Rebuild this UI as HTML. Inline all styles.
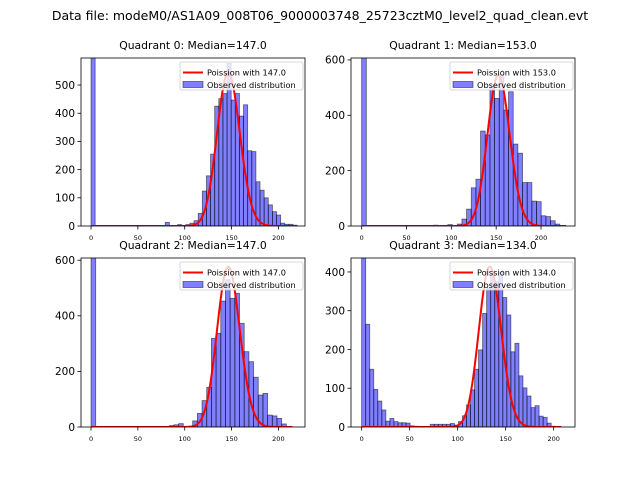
<!DOCTYPE html>
<html><head><meta charset="utf-8"><style>
body{margin:0;background:#fff;}
svg{display:block;font-family:"DejaVu Sans","Liberation Sans",sans-serif;}
</style></head><body>
<svg id="fig" width="640" height="480" viewBox="0 0 640 480">
<rect width="640" height="480" fill="#fff"/>
<text x="320" y="20" font-size="12.5" text-anchor="middle">Data file: modeM0/AS1A09_008T06_9000003748_25723cztM0_level2_quad_clean.evt</text>
</svg>
<script>
// ---- data ----
const q0Medians = 147.0, q1Medians = 153.0, q2Medians = 147.0, q3Medians = 134.0;
const q0Edges = [0, 79.2, 92.4, 101.2, 105.6, 110, 114.4, 118.8, 123.2, 127.6, 132, 136.4, 140.8, 145.2, 149.6, 154, 158.4, 162.8, 167.2, 171.6, 176, 180.4, 184.8, 189.2, 193.6, 198, 202.4, 206.8, 211.2, 215.6];
const q0Counts = [700, 13, 5, 5, 10, 19, 45, 124, 178, 255, 425, 452, 470, 577, 447, 470, 390, 430, 267, 264, 157, 127, 100, 75, 51, 39, 10, 6, 6, 3];
const q0BinW = 4.4;
const q1Edges = [0, 80, 96, 106.6, 111.8, 117, 122.2, 127.4, 132.6, 137.8, 143, 148.2, 153.4, 158.6, 163.8, 169, 174.2, 179.4, 184.6, 189.8, 195, 200.2, 205.4, 210.6, 215.8];
const q1Counts = [700, 3, 5, 7, 25, 61, 138, 169, 343, 329, 504, 461, 546, 419, 485, 296, 263, 157, 157, 90, 88, 37, 34, 19, 7];
const q1BinW = 5.2;
const q2Edges = [0, 83.5, 88.5, 93.5, 108.5, 113.5, 118.5, 123.5, 128.5, 133.5, 138.5, 143.5, 148.5, 153.5, 158.5, 163.5, 168.5, 173.5, 178.5, 183.5, 188.5, 193.5, 198.5, 203.5];
const q2Counts = [700, 5, 8, 12, 22, 49, 95, 143, 319, 337, 453, 530, 463, 481, 373, 271, 235, 179, 115, 121, 43, 40, 31, 11];
const q2BinW = 5;
const q3Counts = [600, 265, 149, 97, 67, 44, 15, 22, 14, 11, 11, 10, 3, 2, 1, 1, 1, 7, 7, 7, 7, 7, 9, 5, 14, 29, 57, 96, 149, 199, 293, 358, 395, 375, 400, 334, 289, 194, 216, 132, 101, 80, 50, 55, 28, 25, 10, 2, 1];
const q3BinW = 4.2;
const q3Edges = q3Counts.map((c, i) => i * q3BinW);
const curvePeaks = [545, 546, 577, 414];
const curveMax = [218, 228, 215, 208];
const yTicks0 = [0, 100, 200, 300, 400, 500];
const yTicks1 = [0, 200, 400, 600];
const yTicks2 = [0, 200, 400, 600];
const yTicks3 = [0, 100, 200, 300, 400];
const xTicks = [0, 50, 100, 150, 200];

// ---- layout ----
const NS = "http://www.w3.org/2000/svg";
const svg = document.getElementById('fig');
function mk(tag, attrs, parent) {
  const e = document.createElementNS(NS, tag);
  for (const k in attrs) e.setAttribute(k, attrs[k]);
  (parent || svg).appendChild(e);
  return e;
}
function lgamma(n) {
  if (n < 2) return 0;
  return n * Math.log(n) - n + 0.5 * Math.log(2 * Math.PI * n) + 1 / (12 * n) - 1 / (360 * n * n * n);
}
const panels = [
  {name: 'quadrant-0', L: 81, R: 305, T: 58, B: 226, xlim: [-10.7, 228.4], ylim: [0, 596], med: q0Medians, edges: q0Edges, counts: q0Counts, w: q0BinW, yt: yTicks0, idx: 0},
  {name: 'quadrant-1', L: 351, R: 575, T: 58, B: 226, xlim: [-11.9, 237.9], ylim: [0, 607], med: q1Medians, edges: q1Edges, counts: q1Counts, w: q1BinW, yt: yTicks1, idx: 1},
  {name: 'quadrant-2', L: 81, R: 305, T: 258, B: 427, xlim: [-10.7, 228.4], ylim: [0, 608], med: q2Medians, edges: q2Edges, counts: q2Counts, w: q2BinW, yt: yTicks2, idx: 2},
  {name: 'quadrant-3', L: 351, R: 575, T: 258, B: 427, xlim: [-11.1, 222.2], ylim: [0, 436], med: q3Medians, edges: q3Edges, counts: q3Counts, w: q3BinW, yt: yTicks3, idx: 3}
];
panels.forEach(p => {
  const g = mk('g', {});
  
  
  const xs = d => p.L + (d - p.xlim[0]) / (p.xlim[1] - p.xlim[0]) * (p.R - p.L);
  const ys = v => p.B - (v - p.ylim[0]) / (p.ylim[1] - p.ylim[0]) * (p.B - p.T);
  const cid = 'clip' + p.idx;
  const cp = mk('clipPath', {id: cid}, g);
  mk('rect', {x: p.L, y: p.T, width: p.R - p.L, height: p.B - p.T}, cp);
  const plot = mk('g', {'clip-path': 'url(#' + cid + ')'}, g);
  p.counts.forEach((c, i) => {
    const x0 = xs(p.edges[i]), x1 = xs(p.edges[i] + p.w);
    const r = mk('rect', {x: x0, y: ys(c), width: x1 - x0, height: ys(0) - ys(c), fill: 'rgba(0,0,255,0.5)', stroke: 'rgba(0,0,0,0.55)', 'stroke-width': 0.8}, plot);
    
    
  });
  const lam = p.med;
  const scale = curvePeaks[p.idx] * Math.sqrt(2 * Math.PI * lam);
  let d = '';
  for (let k = 0; k <= curveMax[p.idx]; k++) {
    const pmf = Math.exp(k * Math.log(lam) - lam - lgamma(k));
    d += (k ? 'L' : 'M') + xs(k).toFixed(2) + ',' + ys(scale * pmf).toFixed(2);
  }
  const line = mk('path', {d: d, fill: 'none', stroke: '#ff0000', 'stroke-width': 2, 'stroke-linejoin': 'round'}, plot);
  
  
  const fr = mk('rect', {x: p.L, y: p.T, width: p.R - p.L, height: p.B - p.T, fill: 'none', stroke: '#000', 'stroke-width': 0.8}, g);
  
  
  xTicks.forEach(t => {
    mk('line', {x1: xs(t), x2: xs(t), y1: p.B, y2: p.B + 3.5, stroke: '#000', 'stroke-width': 0.8}, g);
    const tx = mk('text', {x: xs(t), y: p.B + 14, 'font-size': 6.5, 'text-anchor': 'middle'}, g);
    tx.textContent = t;
    
    
  });
  p.yt.forEach(t => {
    mk('line', {x1: p.L - 3.5, x2: p.L, y1: ys(t), y2: ys(t), stroke: '#000', 'stroke-width': 0.8}, g);
    const ty = mk('text', {x: p.L - 6, y: ys(t) + 3.8, 'font-size': 10.5, 'text-anchor': 'end'}, g);
    ty.textContent = t;
    
    
  });
  const ti = mk('text', {x: (p.L + p.R) / 2, y: p.T - 9, 'font-size': 10.8, 'text-anchor': 'middle'}, g);
  ti.textContent = 'Quadrant ' + p.idx + ': Median=' + p.med.toFixed(1);
  
  
  const lg = mk('g', {}, g);
  
  
  const lx = p.R - 125, ly = p.T + 4;
  mk('rect', {x: lx, y: ly, width: 123, height: 28, fill: 'rgba(255,255,255,0.8)', stroke: '#ccc', 'stroke-width': 0.8, rx: 2}, lg);
  mk('line', {x1: lx + 3, x2: lx + 23, y1: ly + 10.5, y2: ly + 10.5, stroke: '#ff0000', 'stroke-width': 2}, lg);
  const t1 = mk('text', {x: lx + 27, y: ly + 13.5, 'font-size': 8.2}, lg);
  t1.textContent = 'Poission with ' + p.med.toFixed(1);
  
  
  mk('rect', {x: lx + 3, y: ly + 19.5, width: 20, height: 6, fill: 'rgba(0,0,255,0.5)', stroke: 'rgba(0,0,0,0.55)', 'stroke-width': 0.8}, lg);
  const t2 = mk('text', {x: lx + 27, y: ly + 26, 'font-size': 8.2}, lg);
  t2.textContent = 'Observed distribution';
  
  
});
</script>
</body></html>
